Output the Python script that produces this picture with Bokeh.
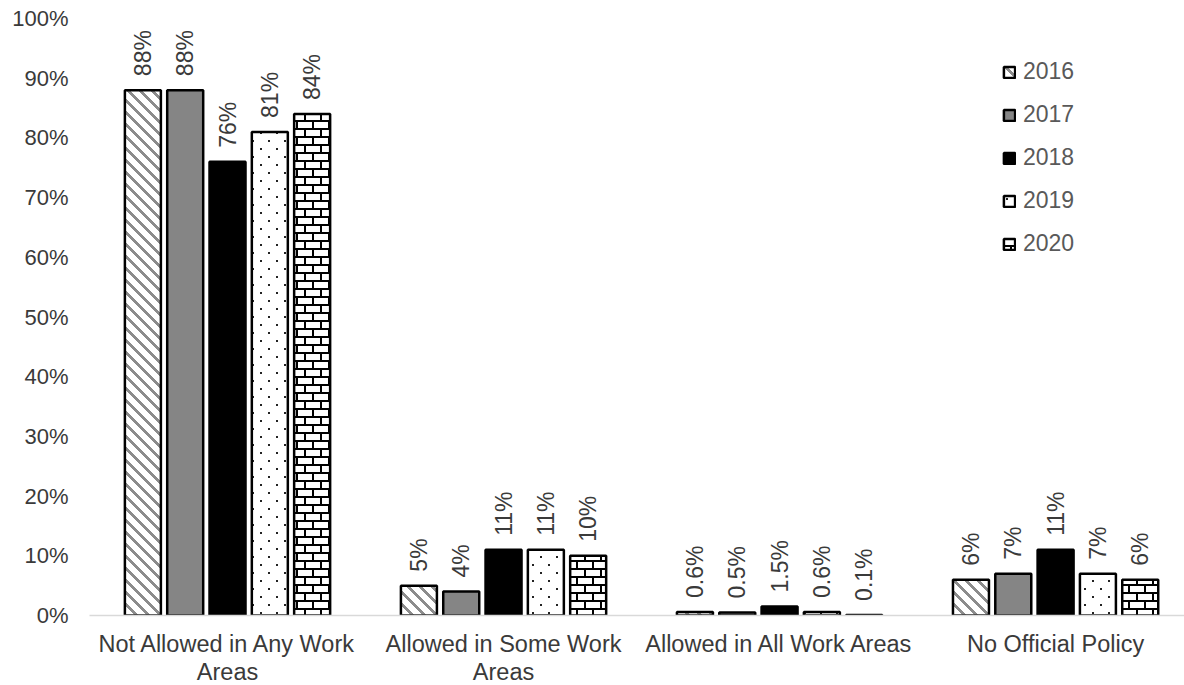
import base64
import struct
import zlib
from math import pi

from bokeh.core.properties import value
from bokeh.embed import file_html
from bokeh.models import (ColumnDataSource, FixedTicker, ImageURLTexture, Legend,
                          LegendItem, NumeralTickFormatter, Range1d)
from bokeh.plotting import figure
from bokeh.resources import INLINE
from bokeh.transform import dodge

# Workplace smoking policy, share of respondents (%) by year
categories = ["Not Allowed in Any Work Areas", "Allowed in Some Work Areas",
              "Allowed in All Work Areas", "No Official Policy"]
category_labels = ["Not Allowed in Any Work\nAreas", "Allowed in Some Work\nAreas",
                   "Allowed in All Work Areas", "No Official Policy"]
years = ["2016", "2017", "2018", "2019", "2020"]
v2016 = [88, 5, 0.6, 6]
v2017 = [88, 4, 0.5, 7]
v2018 = [76, 11, 1.5, 11]
v2019 = [81, 11, 0.6, 7]
v2020 = [84, 10, 0.1, 6]
series = [v2016, v2017, v2018, v2019, v2020]
y_ticks = [i / 10 for i in range(11)]

FONT = "Liberation Sans"
TEXT = "#3a3a3a"


def png_url(pixels):
    """Encode a grid of (r, g, b) rows as a PNG data URL."""
    h, w = len(pixels), len(pixels[0])
    raw = b"".join(b"\x00" + bytes(c for px in row for c in px) for row in pixels)

    def chunk(tag, data):
        return (struct.pack(">I", len(data)) + tag + data
                + struct.pack(">I", zlib.crc32(tag + data) & 0xFFFFFFFF))

    png = (b"\x89PNG\r\n\x1a\n"
           + chunk(b"IHDR", struct.pack(">IIBBBBB", w, h, 8, 2, 0, 0, 0))
           + chunk(b"IDAT", zlib.compress(raw))
           + chunk(b"IEND", b""))
    return "data:image/png;base64," + base64.b64encode(png).decode()


WHITE, INK, GREY = (255, 255, 255), (0, 0, 0), (140, 140, 140)


def stripe_px(x, y):
    # grey bands running from upper left to lower right
    return GREY if (x - y) % 12 < 4 else WHITE


def brick_px(x, y):
    # two courses of 8 px, 2 px mortar, joints offset by half a brick
    if y % 8 < 2:
        return INK
    if y < 8 and x < 2:
        return INK
    if y >= 8 and 8 <= x < 10:
        return INK
    return WHITE


def dot_px(x, y):
    # staggered 2 px dots
    if (x in (4, 5) and y in (4, 5)) or (x in (12, 13) and y in (12, 13)):
        return (34, 34, 34)
    return WHITE


def texture(fn, size):
    return ImageURLTexture(url=png_url([[fn(x, y) for x in range(size)] for y in range(size)]))


stripes = texture(stripe_px, 12)
brick = texture(brick_px, 16)
dots = texture(dot_px, 16)

styles = [
    dict(fill_color="white", hatch_pattern=value("stripes"), hatch_extra={"stripes": stripes}),
    dict(fill_color="#858585"),
    dict(fill_color="black"),
    dict(fill_color="white", hatch_pattern=value("dots"), hatch_extra={"dots": dots}),
    dict(fill_color="white", hatch_pattern=value("brick"), hatch_extra={"brick": brick}),
]

p = figure(frame_width=1095, frame_height=597,
           x_range=Range1d(-0.5, 3.467), y_range=Range1d(0, 1),
           min_border_left=89, min_border_top=18, min_border_bottom=70,
           min_border_right=0, output_backend="svg", toolbar_location=None)
p.outline_line_color = None
p.grid.visible = False
p.background_fill_color = "white"
p.border_fill_color = "white"

step = 0.1533
bar_w = 0.1304
items = []
for j, (yr, vals) in enumerate(zip(years, series)):
    src = ColumnDataSource(dict(
        x=list(range(len(categories))),
        top=[v / 100 for v in vals],
        label=[f"{v:g}%" for v in vals],
    ))
    off = (j - 2) * step
    r = p.vbar(x=dodge("x", off), top="top", width=bar_w, bottom=0, source=src,
               line_color="black", line_width=2.5, **styles[j])
    p.text(x=dodge("x", off), y="top", text="label", source=src, angle=pi / 2,
           text_align="left", text_baseline="middle", y_offset=-14,
           text_font=value(FONT), text_font_size="23px", text_color=TEXT)
    items.append(LegendItem(label=yr, renderers=[r]))

# legend anchored by its lower-left corner, in pixels from the frame's lower-left
legend = Legend(items=items, location=(913, 358), orientation="vertical",
                glyph_width=14, glyph_height=14, label_height=21, spacing=16,
                label_standoff=7, padding=0, margin=0,
                label_text_font=FONT, label_text_font_size="23px",
                label_text_color="#595959",
                background_fill_alpha=0, border_line_color=None)
p.add_layout(legend)

# y axis: percentages, no line or ticks
p.yaxis.ticker = FixedTicker(ticks=y_ticks)
p.yaxis.formatter = NumeralTickFormatter(format="0%")
p.yaxis.axis_line_color = None
p.yaxis.major_tick_line_color = None
p.yaxis.minor_tick_line_color = None
p.yaxis.major_tick_out = 0
p.yaxis.major_label_standoff = 21
p.yaxis.major_label_text_font = FONT
p.yaxis.major_label_text_font_size = "22px"
p.yaxis.major_label_text_color = TEXT

# x axis: category names under each group
p.xaxis.ticker = FixedTicker(ticks=list(range(len(categories))))
p.xaxis.major_label_overrides = {i: lab for i, lab in enumerate(category_labels)}
p.xaxis.axis_line_color = "#d9d9d9"
p.xaxis.axis_line_width = 1.5
p.xaxis.major_tick_line_color = None
p.xaxis.minor_tick_line_color = None
p.xaxis.major_tick_out = 0
p.xaxis.major_tick_in = 0
p.xaxis.major_label_standoff = 15
p.xaxis.major_label_text_font = FONT
p.xaxis.major_label_text_font_size = "23.5px"
p.xaxis.major_label_text_color = TEXT
p.xaxis.major_label_text_line_height = 1.1

open("out.html", "w").write(file_html(p, INLINE))
